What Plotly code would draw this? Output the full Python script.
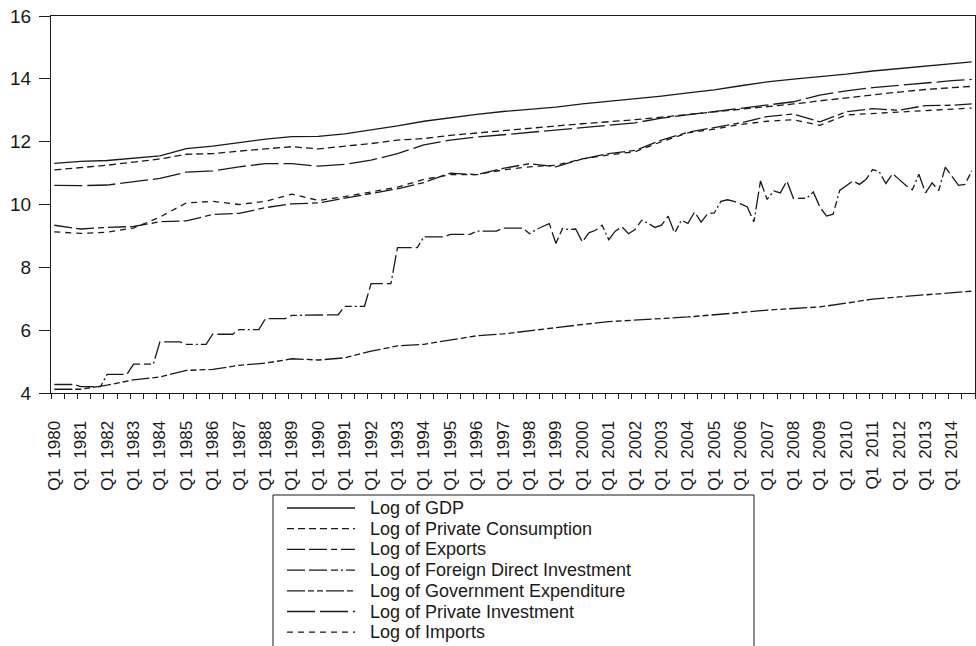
import plotly.graph_objects as go

# ---------------- data ----------------
YEARS = list(range(1980, 2015))
QUARTERS = [f"{y}Q{q}" for y in YEARS for q in (1, 2, 3, 4)]

# annual (Q1) readings plus the last quarter 2014Q4
ANNUAL_DATES = [f"{y}Q1" for y in YEARS] + ["2014Q4"]

gdp = [11.31, 11.37, 11.40, 11.47, 11.55, 11.78, 11.86, 11.97, 12.08, 12.16,
       12.17, 12.25, 12.37, 12.50, 12.65, 12.77, 12.87, 12.96, 13.03, 13.10,
       13.20, 13.28, 13.36, 13.45, 13.55, 13.65, 13.78, 13.90, 13.99, 14.06,
       14.15, 14.25, 14.33, 14.42, 14.49, 14.54]

private_consumption = [11.10, 11.17, 11.25, 11.35, 11.45, 11.60, 11.62, 11.70, 11.78, 11.84,
                       11.77, 11.85, 11.94, 12.05, 12.10, 12.20, 12.28, 12.36, 12.42, 12.50,
                       12.57, 12.63, 12.70, 12.78, 12.86, 12.95, 13.03, 13.12, 13.20, 13.30,
                       13.40, 13.50, 13.58, 13.66, 13.72, 13.76]

exports = [9.34, 9.22, 9.27, 9.30, 9.45, 9.48, 9.68, 9.72, 9.90, 10.02,
           10.05, 10.20, 10.35, 10.50, 10.70, 11.00, 10.95, 11.15, 11.30, 11.20,
           11.45, 11.62, 11.72, 12.05, 12.30, 12.45, 12.60, 12.80, 12.88, 12.63,
           12.95, 13.05, 13.00, 13.15, 13.16, 13.20]

imports = [9.13, 9.08, 9.12, 9.25, 9.60, 10.05, 10.10, 10.00, 10.10, 10.33,
           10.13, 10.25, 10.40, 10.55, 10.80, 10.95, 10.95, 11.10, 11.20, 11.25,
           11.45, 11.58, 11.68, 12.00, 12.28, 12.40, 12.55, 12.65, 12.70, 12.52,
           12.85, 12.90, 12.95, 13.00, 13.05, 13.07]

private_investment = [10.61, 10.60, 10.62, 10.72, 10.83, 11.03, 11.07, 11.20, 11.30, 11.30,
                      11.22, 11.28, 11.41, 11.62, 11.90, 12.05, 12.15, 12.22, 12.30, 12.36,
                      12.45, 12.52, 12.60, 12.75, 12.85, 12.95, 13.05, 13.15, 13.27, 13.48,
                      13.62, 13.72, 13.80, 13.88, 13.94, 13.98]

government_expenditure = [4.12, 4.12, 4.25, 4.42, 4.51, 4.72, 4.75, 4.88, 4.95, 5.09,
                          5.05, 5.12, 5.33, 5.50, 5.55, 5.68, 5.82, 5.88, 5.98, 6.10,
                          6.18, 6.27, 6.33, 6.37, 6.42, 6.48, 6.56, 6.64, 6.70, 6.74,
                          6.86, 6.99, 7.06, 7.12, 7.20, 7.24]

# FDI: quarterly readings, 1980Q1 .. 2014Q4
fdi = [
    4.27, 4.27, 4.27, 4.27,   # 1980
    4.20, 4.20, 4.20, 4.20,   # 1981
    4.59, 4.59, 4.59, 4.59,   # 1982
    4.92, 4.92, 4.92, 4.92,   # 1983
    5.63, 5.63, 5.63, 5.63,   # 1984
    5.55, 5.55, 5.55, 5.55,   # 1985
    5.87, 5.87, 5.87, 5.87,   # 1986
    6.02, 6.02, 6.02, 6.02,   # 1987
    6.37, 6.37, 6.37, 6.37,   # 1988
    6.47, 6.47, 6.47, 6.47,   # 1989
    6.49, 6.49, 6.49, 6.49,   # 1990
    6.76, 6.76, 6.76, 6.76,   # 1991
    7.48, 7.48, 7.48, 7.48,   # 1992
    8.63, 8.63, 8.63, 8.63,   # 1993
    8.97, 8.97, 8.97, 8.97,   # 1994
    9.05, 9.05, 9.05, 9.05,   # 1995
    9.15, 9.15, 9.15, 9.15,   # 1996
    9.25, 9.25, 9.25, 9.25,   # 1997
    9.07, 9.20, 9.30, 9.39,   # 1998
    8.76, 9.24, 9.20, 9.22,   # 1999
    8.81, 9.10, 9.18, 9.34,   # 2000
    8.88, 9.15, 9.29, 9.07,   # 2001
    9.20, 9.50, 9.40, 9.27,   # 2002
    9.34, 9.63, 9.09, 9.50,   # 2003
    9.40, 9.76, 9.44, 9.71,   # 2004
    9.73, 10.10, 10.15, 10.10,  # 2005
    10.02, 9.92, 9.45, 10.75,   # 2006
    10.16, 10.43, 10.37, 10.75,  # 2007
    10.19, 10.19, 10.20, 10.40,  # 2008
    9.92, 9.63, 9.69, 10.45,    # 2009
    10.60, 10.75, 10.64, 10.80,  # 2010
    11.11, 11.04, 10.67, 10.98,  # 2011
    10.80, 10.61, 10.47, 10.96,  # 2012
    10.37, 10.69, 10.44, 11.19,  # 2013
    10.90, 10.61, 10.64, 11.07,  # 2014
]

TICK_DATES = [f"{y}Q1" for y in YEARS]
TICK_LABELS = [f"Q1  {y}" for y in YEARS]

SERIES_NAMES = ["Log of GDP", "Log of Private Consumption", "Log of Exports",
                "Log of Foreign Direct Investment", "Log of Government Expenditure",
                "Log of Private Investment", "Log of Imports"]

# ---------------- figure ----------------
def pos(dates):
    return [QUARTERS.index(d) for d in dates]

W, H = 976, 646
ML, MR, MT, MB = 51, 1, 16, 253
PW, PH = W - ML - MR, H - MT - MB

def px_x(px):
    return (px - ML) / PW

def px_y(py):
    return (H - MB - py) / PH

INK = "#1a1a1a"
FONT = "Liberation Sans, Arial, sans-serif"

series = [
    (SERIES_NAMES[0], ANNUAL_DATES, gdp, "solid"),
    (SERIES_NAMES[1], ANNUAL_DATES, private_consumption, "7px,4px"),
    (SERIES_NAMES[2], ANNUAL_DATES, exports, "18px,4px,18px,4px,6px,4px"),
    (SERIES_NAMES[3], QUARTERS, fdi, "18px,4px,18px,4px,7px,3px,2px,3px"),
    (SERIES_NAMES[4], ANNUAL_DATES, government_expenditure, "18px,3px,6px,3px,6px,3px"),
    (SERIES_NAMES[5], ANNUAL_DATES, private_investment, "28px,5px"),
    (SERIES_NAMES[6], ANNUAL_DATES, imports, "6px,5px"),
]

fig = go.Figure()
for name, dates, vals, dash in series:
    fig.add_trace(go.Scatter(
        x=pos(dates), y=vals, name=name, mode="lines",
        line=dict(color=INK, width=1.3, dash=dash),
        showlegend=False,
    ))

# boxed legend below the plot (drawn as shapes + text, cut by the page bottom)
shapes = [dict(type="rect", xref="paper", yref="paper",
               x0=px_x(273), x1=px_x(754), y0=px_y(495), y1=px_y(670),
               line=dict(color=INK, width=1), fillcolor="white", layer="above")]
annotations = []
for k, (name, _, _, dash) in enumerate(series):
    cy = 508 + k * 20.7
    shapes.append(dict(type="line", xref="paper", yref="paper",
                       x0=px_x(287), x1=px_x(355), y0=px_y(cy), y1=px_y(cy),
                       line=dict(color=INK, width=1.3, dash=dash), layer="above"))
    annotations.append(dict(xref="paper", yref="paper", x=px_x(368), y=px_y(cy),
                            text=name, showarrow=False, xanchor="left", yanchor="middle",
                            font=dict(family=FONT, size=18, color=INK)))

minor_vals = [i - 0.5 for i in range(0, len(QUARTERS) + 1, 2)]

fig.update_layout(
    width=W, height=H,
    margin=dict(l=ML, r=MR, t=MT, b=MB, autoexpand=False),
    paper_bgcolor="white", plot_bgcolor="white",
    font=dict(family=FONT, size=17, color=INK),
    showlegend=False,
    shapes=shapes, annotations=annotations,
    xaxis=dict(
        range=[-0.5, len(QUARTERS) - 0.5],
        tickmode="array", tickvals=pos(TICK_DATES), ticktext=TICK_LABELS,
        tickangle=-90, ticks="", ticklabelstandoff=20,
        tickfont=dict(family=FONT, size=17, color=INK),
        showline=True, linecolor=INK, linewidth=1.2, mirror=True,
        showgrid=False, zeroline=False, automargin=False,
        minor=dict(ticks="outside", ticklen=5, tickcolor=INK, tickwidth=1,
                   tickmode="array", tickvals=minor_vals, showgrid=False),
    ),
    yaxis=dict(
        range=[4, 16], tickmode="linear", tick0=4, dtick=2,
        ticks="outside", ticklen=11, tickcolor=INK, tickwidth=1,
        tickfont=dict(family=FONT, size=19, color=INK),
        showline=True, linecolor=INK, linewidth=1.2, mirror=True,
        showgrid=False, zeroline=False, ticklabelstandoff=4, automargin=False,
    ),
)

fig.write_html(
    "out.html",
    config={"displayModeBar": False},
    post_script="document.body.style.margin='0';document.body.style.overflow='hidden';",
)
